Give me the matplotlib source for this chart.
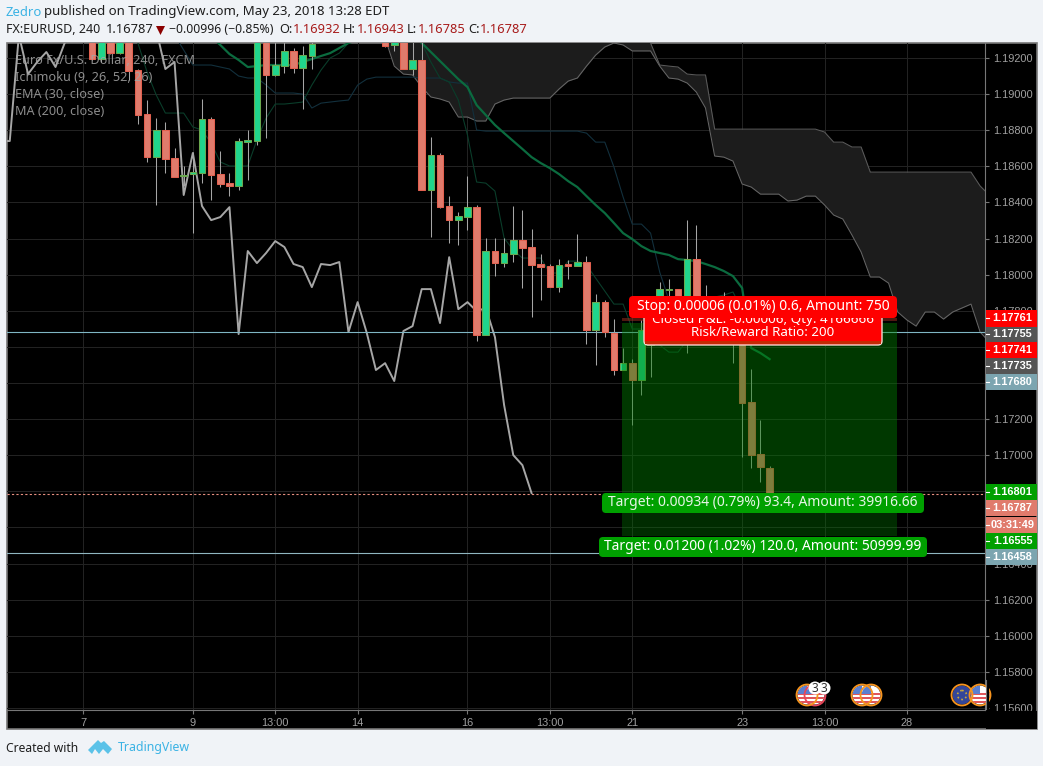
import numpy as np
import matplotlib
matplotlib.use("Agg")
import matplotlib.pyplot as plt
from matplotlib.patches import Circle, FancyBboxPatch, Polygon, Rectangle

nan = np.nan

# candles: bars 26-32 are above the visible price range
bars = list(range(1, 26)) + list(range(33, 76))
opens = [1.19327, 1.19194, 1.19300, 1.19227, 1.19300, 1.19133, 1.18890, 1.18651, 1.18801, 1.18646, 1.18546, 1.18557, 1.18563, 1.18862, 1.18557, 1.18507, 1.18491, 1.18734, 1.18740, 1.19300, 1.19106, 1.19155, 1.19239, 1.19144, 1.19211,
         1.19300, 1.19272, 1.19300, 1.19139, 1.19189, 1.18469, 1.18662, 1.18380, 1.18302, 1.18319, 1.18374, 1.17665, 1.18131, 1.18064, 1.18114, 1.18192, 1.18153, 1.18059, 1.18048, 1.17931, 1.18059, 1.18048, 1.18070, 1.17693, 1.17848, 1.17677, 1.17472, 1.17510, 1.17416, 1.17610, 1.17749, 1.17915, 1.17920, 1.17749, 1.18086, 1.17760, 1.17832, 1.17800, 1.17721, 1.17693, 1.17294, 1.17006, 1.16932]
highs = [1.19340, 1.19320, 1.19310, 1.19310, 1.19310, 1.19140, 1.18967, 1.18867, 1.18845, 1.18701, 1.18602, 1.18679, 1.18973, 1.18873, 1.18685, 1.18563, 1.18757, 1.18801, 1.19320, 1.19320, 1.19300, 1.19300, 1.19255, 1.19266, 1.19300,
         1.19310, 1.19310, 1.19310, 1.19300, 1.19300, 1.18762, 1.18674, 1.18435, 1.18347, 1.18546, 1.18386, 1.18203, 1.18203, 1.18203, 1.18380, 1.18358, 1.18253, 1.18114, 1.18059, 1.18086, 1.18081, 1.18225, 1.18103, 1.17893, 1.17859, 1.17754, 1.17593, 1.17533, 1.17749, 1.17859, 1.17959, 1.17976, 1.17920, 1.18302, 1.18275, 1.17942, 1.17870, 1.17904, 1.17740, 1.17720, 1.17477, 1.17195, 1.16943]
lows = [1.19190, 1.19180, 1.19220, 1.19222, 1.19078, 1.18834, 1.18624, 1.18386, 1.18563, 1.18541, 1.18491, 1.18230, 1.18507, 1.18413, 1.18485, 1.18435, 1.18469, 1.18524, 1.18718, 1.18757, 1.19100, 1.19117, 1.19117, 1.18917, 1.19139,
        1.19261, 1.19239, 1.19139, 1.19106, 1.18469, 1.18208, 1.18369, 1.18175, 1.18164, 1.18247, 1.17632, 1.17665, 1.17992, 1.18042, 1.18070, 1.17926, 1.17765, 1.17859, 1.17931, 1.17904, 1.17976, 1.18048, 1.17616, 1.17499, 1.17654, 1.17444, 1.17472, 1.17167, 1.17333, 1.17433, 1.17693, 1.17825, 1.17665, 1.17566, 1.17721, 1.17665, 1.17665, 1.17650, 1.17510, 1.16990, 1.16929, 1.16851, 1.16785]
closes = [1.19194, 1.19300, 1.19227, 1.19300, 1.19128, 1.18884, 1.18651, 1.18801, 1.18640, 1.18541, 1.18554, 1.18568, 1.18862, 1.18552, 1.18502, 1.18491, 1.18740, 1.18745, 1.19300, 1.19106, 1.19161, 1.19239, 1.19144, 1.19216, 1.19280,
          1.19266, 1.19300, 1.19139, 1.19189, 1.18469, 1.18662, 1.18374, 1.18302, 1.18325, 1.18374, 1.17665, 1.18131, 1.18064, 1.18120, 1.18192, 1.18147, 1.18053, 1.18042, 1.17931, 1.18053, 1.18048, 1.18070, 1.17693, 1.17848, 1.17682, 1.17472, 1.17510, 1.17416, 1.17693, 1.17749, 1.17920, 1.17920, 1.17749, 1.18086, 1.17804, 1.17859, 1.17721, 1.17721, 1.17640, 1.17289, 1.17001, 1.16934, 1.16787]

# MA (200), leaves the chart at the top for a while
ma_bars = list(range(-9, 0)) + list(range(8, 50))
ma_vals = [1.18740, 1.18740, 1.19327, 1.19111, 1.19178, 1.19233, 1.19150, 1.19283, 1.19410,
           1.19355, 1.19139, 1.19178, 1.18441, 1.18674, 1.18380, 1.18302, 1.18319, 1.18374, 1.17671, 1.18131, 1.18064, 1.18120, 1.18186, 1.18153, 1.18059, 1.18042, 1.17931, 1.18059, 1.18053, 1.18070, 1.17682, 1.17848, 1.17677, 1.17472, 1.17510, 1.17411, 1.17688, 1.17715, 1.17920, 1.17920, 1.17732, 1.18097, 1.17809, 1.17848, 1.17798, 1.17815, 1.17654, 1.17278, 1.17001, 1.16945, 1.16790]

# EMA (30)
ema_bars = list(range(14, 76))
ema_vals = [1.19320, 1.19272, 1.19222, 1.19189, 1.19150, 1.19155, 1.19161, 1.19161, 1.19161, 1.19161, 1.19178, 1.19194, 1.19211, 1.19227, 1.19255, 1.19283, 1.19300,
            nan, nan, nan, nan, nan,
            1.19327, 1.19283, 1.19233, 1.19183, 1.19133, 1.19083, 1.19039, 1.18939, 1.18884, 1.18829, 1.18784, 1.18740, 1.18696, 1.18651, 1.18618, 1.18590, 1.18557, 1.18518, 1.18485, 1.18435, 1.18386, 1.18341, 1.18286, 1.18230, 1.18197, 1.18158, 1.18131, 1.18120, 1.18109, 1.18086, 1.18081, 1.18075, 1.18059, 1.18042, 1.18020, 1.17992, 1.17926, 1.17593, 1.17566, 1.17532]

# Ichimoku conversion and base lines
tenkan_bars = list(range(5, 76))
tenkan_vals = [1.19340, 1.19283, 1.19122, 1.18995, 1.18895, 1.18895, 1.18895, 1.18818, 1.18801, 1.18729, 1.18624, 1.18602, 1.18602, 1.18602, 1.18746, 1.18867, 1.18945, 1.18945, 1.18950, 1.18956, 1.19050, 1.19133, 1.19200, 1.19227, 1.19283,
               nan, nan, nan, nan, nan, nan,
               1.19340, 1.19283, 1.19178, 1.19089, 1.19067, 1.18967, 1.18773, 1.18513, 1.18507, 1.18463, 1.18203, 1.18136, 1.18092, 1.18092, 1.18092, 1.18009, 1.18009, 1.18075, 1.18075, 1.18053, 1.17981, 1.17909, 1.17837, 1.17837, 1.17699, 1.17699, 1.17638, 1.17610, 1.17571, 1.17571, 1.17638, 1.17721, 1.17804, 1.17876, 1.17887, 1.17904, 1.17804, 1.17693, 1.17616, 1.17616]
kijun_bars = list(range(9, 76))
kijun_vals = [1.19355, 1.19327, 1.19244, 1.19161, 1.19161, 1.19161, 1.19150, 1.19139, 1.19100, 1.19089, 1.19089, 1.19050, 1.19006, 1.19006, 1.19006, 1.19000, 1.18923, 1.18950, 1.18956, 1.18962, 1.18967, 1.19050, 1.19083, 1.19094, 1.19094, 1.19094, 1.19094, 1.19094, 1.19089, 1.19089, 1.19089, 1.19067, 1.19061, 1.19061, 1.18801, 1.18795, 1.18795, 1.18795, 1.18795, 1.18795, 1.18795, 1.18795, 1.18795, 1.18795, 1.18795, 1.18795, 1.18784, 1.18734, 1.18734, 1.18596, 1.18430, 1.18280, 1.18280, 1.18230, 1.18014, 1.17859, 1.17804, 1.17804, 1.17804, 1.17804, 1.17804, 1.17804, 1.17804, 1.17804, 1.17804, 1.17804, 1.17804]

# Ichimoku cloud, the upper edge is above the chart until bar 62
cloud_bars = list(range(33, 100))
cloud_low = [1.19311, 1.19155, 1.19111, 1.19106, 1.19039, 1.18984, 1.18973, 1.18956, 1.18873, 1.18873, 1.18851, 1.18851, 1.18945, 1.18967, 1.18978, 1.18978, 1.18978, 1.18978, 1.18978, 1.19028, 1.19072, 1.19089, 1.19155, 1.19216, 1.19261, 1.19283, 1.19272, 1.19239, 1.19239, 1.19239, 1.19155, 1.19089, 1.19083, 1.19061, 1.19011, 1.18923, 1.18657, 1.18651, 1.18629, 1.18502, 1.18485, 1.18446, 1.18446, 1.18446, 1.18408, 1.18413, 1.18435, 1.18435, 1.18386, 1.18330, 1.18308, 1.18219, 1.18125, 1.17987, 1.17987, 1.17953, 1.17793, 1.17749, 1.17715, 1.17793, 1.17793, 1.17754, 1.17793, 1.17815, 1.17837, 1.17682, 1.17627]
cloud_high = [1.19340] * 29 + [1.19283, 1.19161, 1.19155, 1.19150, 1.19111, 1.19106, 1.19106] + [1.18806] * 12 + [1.18790, 1.18734, 1.18734, 1.18707, 1.18707] + [1.18568] * 12 + [1.18491, 1.18441]

# axis ticks, four price labels sit fully behind the badges
price_ticks = [1.192, 1.190, 1.188, 1.186, 1.184, 1.182, 1.180, 1.178, 1.176, 1.174, 1.172, 1.170, 1.168, 1.166, 1.164, 1.162, 1.160, 1.158, 1.156]
price_labels = ["1.19200", "1.19000", "1.18800", "1.18600", "1.18400", "1.18200", "1.18000", "1.17800", "", "", "1.17200", "1.17000", "", "", "1.16400", "1.16200", "1.16000", "1.15800", "1.15600"]
time_ticks = [0, 12, 21, 30, 42, 51, 60, 72, 81, 90]
time_labels = ["7", "9", "13:00", "14", "16", "13:00", "21", "23", "13:00", "28"]

# position tool levels
entry_bar = 58.9
exit_bar = 88.9
stop_top = 1.17761
stop_bottom = 1.17741
entry_price = 1.17735
target_1 = 1.16801
target_2 = 1.16555
last_price = 1.16787
line_price_1 = 1.17680
line_price_2 = 1.16458

# right scale badges: text, colour
badge_texts = ["1.17761", "1.17755", "1.17741", "1.17735", "1.17680", "1.16801", "1.16787", "03:31:49", "1.16555", "1.16458"]
badge_colors = ["#ff0000", "#555555", "#ff0000", "#555555", "#7ca5b0", "#00a000", "#e07b6c", "#e07b6c", "#00a000", "#7ca5b0"]
badge_tops = [310, 326.5, 342, 358, 373.5, 484, 500, 517, 533, 549]
badge_bottoms = [326.5, 342, 358, 373.5, 390, 500, 516, 533, 549, 565]

legend_lines = ["Euro Fx/U.S. Dollar, 240, FXCM", "Ichimoku (9, 26, 52, 26)", "EMA (30, close)", "MA (200, close)"]

W, H = 1043, 766
BG = "#f0f3f7"
RED = "#e07b6c"
GREEN = "#20d58c"
plt.rcParams["font.family"] = ["Noto Sans", "DejaVu Sans"]

fig = plt.figure(figsize=(W / 100, H / 100), dpi=100, facecolor=BG)

# backdrop in pixel coordinates
back = fig.add_axes([0, 0, 1, 1], zorder=0)
back.set_xlim(0, W)
back.set_ylim(H, 0)
back.axis("off")
back.add_patch(Rectangle((6.5, 43), 1030.5, 686, fc="black", ec="#777777", lw=1.2))

# price chart
ax = fig.add_axes([7 / W, 1 - 710 / H, 978 / W, 667 / H], zorder=1)
ax.set_facecolor("none")
ax.set_xlim(-8.3, 98.53)
ax.set_ylim(1.15589, 1.19283)
ax.set_xticks(time_ticks)
ax.set_xticklabels(time_labels)
ax.set_yticks(price_ticks)
ax.set_yticklabels(price_labels)
ax.yaxis.tick_right()
ax.tick_params(axis="both", colors="#777777", labelcolor="#a0a0a0", length=3, width=0.8, labelsize=7.9)
ax.tick_params(axis="x", pad=3)
ax.tick_params(axis="y", pad=3)
for lab in ax.get_xticklabels() + ax.get_yticklabels():
    lab.set_family("Liberation Sans")
ax.grid(True, color="#222222", lw=0.75, zorder=0)
ax.set_axisbelow(True)
for name, sp in ax.spines.items():
    sp.set_visible(name in ("right", "bottom"))
    sp.set_color("#777777")

# cloud
ax.fill_between(cloud_bars, cloud_low, cloud_high, color="#1c1c1c", lw=0, zorder=1)
ax.plot(cloud_bars, cloud_low, color="#666666", lw=0.75, zorder=1.5)
ax.plot(cloud_bars, cloud_high, color="#5a5a5a", lw=0.75, zorder=1.5)

# indicator lines
ax.plot(kijun_bars, kijun_vals, color="#12303d", lw=0.8, zorder=2)
ax.plot(tenkan_bars, tenkan_vals, color="#0a3d2a", lw=0.8, zorder=2)
ax.plot(ema_bars, ema_vals, color="#0b6b3f", lw=1.6, zorder=2.2)
ax.plot(ma_bars, ma_vals, color="#a6a6a6", lw=1.4, zorder=2.4)

# price lines
ax.axhline(line_price_1, color="#7fb6c4", lw=0.8, zorder=2.6)
ax.axhline(line_price_2, color="#8fb6c0", lw=0.8, zorder=2.6)
ax.axhline(last_price, color="#e88f80", lw=0.8, ls=(0, (2, 2)), zorder=2.6)

# candles
up = [c >= o for o, c in zip(opens, closes)]
ax.vlines(bars, lows, highs, color="#a6a6a6", lw=0.75, zorder=3)
ax.bar(bars, [abs(c - o) for o, c in zip(opens, closes)], bottom=[min(o, c) for o, c in zip(opens, closes)],
       width=0.72, color=[GREEN if u else RED for u in up], edgecolor=["#6aa84f" if u else "#e2604f" for u in up],
       linewidth=0.75, zorder=3.2)

# long position zones, laid over the candles
ax.add_patch(Rectangle((entry_bar, target_1), exit_bar - entry_bar, entry_price - target_1, fc="#008000", alpha=0.44, lw=0, zorder=4))
ax.add_patch(Rectangle((entry_bar, target_2), exit_bar - entry_bar, target_1 - target_2, fc="#008000", alpha=0.35, lw=0, zorder=4))
ax.add_patch(Rectangle((entry_bar, stop_bottom), exit_bar - entry_bar, stop_top - stop_bottom, fc="#a03020", alpha=0.5, lw=0, zorder=4))

# overlay in pixel coordinates
ov = fig.add_axes([0, 0, 1, 1], zorder=2)
ov.set_xlim(0, W)
ov.set_ylim(H, 0)
ov.axis("off")
ov.patch.set_alpha(0)

# bottom right corner hides the clipped price label
ov.add_patch(Rectangle((986, 711), 50.5, 17.5, fc="black", lw=0, zorder=1))

for txt, col, top, bottom in zip(badge_texts, badge_colors, badge_tops, badge_bottoms):
    ov.add_patch(Rectangle((985.5, top), 51, bottom - top, fc=col, lw=0, zorder=2))
    ov.plot([985.5, 989], [(top + bottom) / 2] * 2, color="white", lw=0.8, zorder=3)
    ov.text(1012.5, (top + bottom) / 2, txt, color="white", fontsize=7.9, fontweight="bold", family="Liberation Sans",
            ha="center", va="center", zorder=3)


def label_box(x0, y0, x1, y1, color, zorder):
    ov.add_patch(FancyBboxPatch((x0, y0), x1 - x0, y1 - y0, boxstyle="round,pad=0,rounding_size=4", fc=color, lw=0, zorder=zorder))


# position labels
ov.add_patch(FancyBboxPatch((644, 312), 238, 33, boxstyle="round,pad=0,rounding_size=4", fc="#ff0000", ec="#f3d8cf", lw=1, zorder=5))
ov.add_patch(Rectangle((645, 341), 236, 2.5, fc="#c42a05", lw=0, zorder=5.1))
ov.text(763, 320, "Closed P&L: -0.00006, Qty: 4166666", color="white", fontsize=9.7, ha="center", va="center", zorder=5.2)
ov.text(763, 332, "Risk/Reward Ratio: 200", color="white", fontsize=9.6, ha="center", va="center", zorder=5.2)
label_box(629, 296, 897, 318, "#ff0000", 6)
ov.text(763, 306, "Stop: 0.00006 (0.01%) 0.6, Amount: 750", color="white", fontsize=10, ha="center", va="center", zorder=6.1)
label_box(602, 493, 924, 513, "#00a000", 6)
ov.text(763, 503, "Target: 0.00934 (0.79%) 93.4, Amount: 39916.66", color="#e6f5e6", fontsize=10, ha="center", va="center", zorder=6.1)
label_box(599, 537, 927, 557, "#00a000", 6)
ov.text(763, 547, "Target: 0.01200 (1.02%) 120.0, Amount: 50999.99", color="white", fontsize=10, ha="center", va="center", zorder=6.1)

# pane legend
for i, line in enumerate(legend_lines):
    ov.text(15, 60.5 + i * 17, line, color="#a5a5a5", alpha=0.85, fontsize=9.1, va="center", zorder=7)


def flag_icon(x, y, kind, ring="#f7941d"):
    clip = Circle((x, y), 9.5, transform=ov.transData)
    if kind == "us":
        ov.add_patch(Circle((x, y), 9.5, fc="white", lw=0, zorder=8))
        for k in range(3):
            r = Rectangle((x - 10, y - 1 + k * 4 - 1.5), 20, 2, fc="#e0565b", lw=0, zorder=8.1)
            ov.add_patch(r)
            r.set_clip_path(clip)
        r = Rectangle((x - 10, y - 10), 10, 9, fc="#5a7fd0", lw=0, zorder=8.2)
        ov.add_patch(r)
        r.set_clip_path(clip)
    else:
        ov.add_patch(Circle((x, y), 9.5, fc="#33469a", lw=0, zorder=8))
        ov.add_patch(Circle((x, y), 4.5, fc="none", ec="#c9a93a", lw=1.2, ls=":", zorder=8.1))
    ring_patch = Circle((x, y), 10.5, fc="none", ec=ring, lw=1.3, zorder=8.3)
    ov.add_patch(ring_patch)


flag_icon(815, 695, "us", ring="#e8455a")
flag_icon(807, 695, "us")
flag_icon(871, 695, "us")
flag_icon(862, 695, "us")
flag_icon(980, 695, "us")
flag_icon(962, 695, "eu")
# the icons are cut off by the price scale
ov.add_patch(Rectangle((985.5, 680), 3.5, 29, fc="black", lw=0, zorder=8.4))
ov.plot([985.5, 985.5], [680, 709], color="#777777", lw=0.8, zorder=8.5)
for x in (815, 824):
    ov.add_patch(Circle((x, 688), 6.5, fc="white", lw=0, zorder=9))
    ov.text(x, 688, "3", color="#333333", fontsize=8.5, ha="center", va="center", zorder=9.1)

# header
DARK = "#1e1e1e"
VAL = "#a81c1c"
ov.text(6, 12, "Zedro", color="#3bb3e4", fontsize=9.4, va="center")
ov.text(44.5, 12, "published on TradingView.com, May 23, 2018 13:28 EDT", color=DARK, fontsize=9.5, va="center")
ov.text(6, 29.5, "FX:EURUSD, 240", color=DARK, fontsize=9, fontweight="bold", va="center")
ov.text(106, 29.5, "1.16787", color=DARK, fontsize=9.3, va="center")
ov.add_patch(Polygon([(156, 26), (165, 26), (160.5, 35)], fc="#8b0000", lw=0))
ov.text(169, 29.5, "\u22120.00996 (\u22120.85%)", color=DARK, fontsize=8.8, va="center")
for x_key, key, x_val, val in [(279, "O:", 293, "1.16932"), (343, "H:", 357, "1.16943"), (407, "L:", 418, "1.16785"), (468, "C:", 480, "1.16787")]:
    ov.text(x_key, 29.5, key, color=DARK, fontsize=9.2, fontweight="bold", va="center")
    ov.text(x_val, 29.5, val, color=VAL, fontsize=9.3, va="center")

# footer
ov.text(6, 748, "Created with", color=DARK, fontsize=8.7, va="center")
ov.add_patch(Polygon([(88, 750), (98, 740), (101, 743), (104, 741), (112, 749), (108, 754), (103, 749), (99, 754), (95, 749), (92, 754)], fc="#5bc2e8", lw=0))
ov.text(118, 748, "TradingView", color="#3bb3e4", fontsize=8.9, va="center")

fig.savefig("out.png", dpi=100, facecolor=BG)
